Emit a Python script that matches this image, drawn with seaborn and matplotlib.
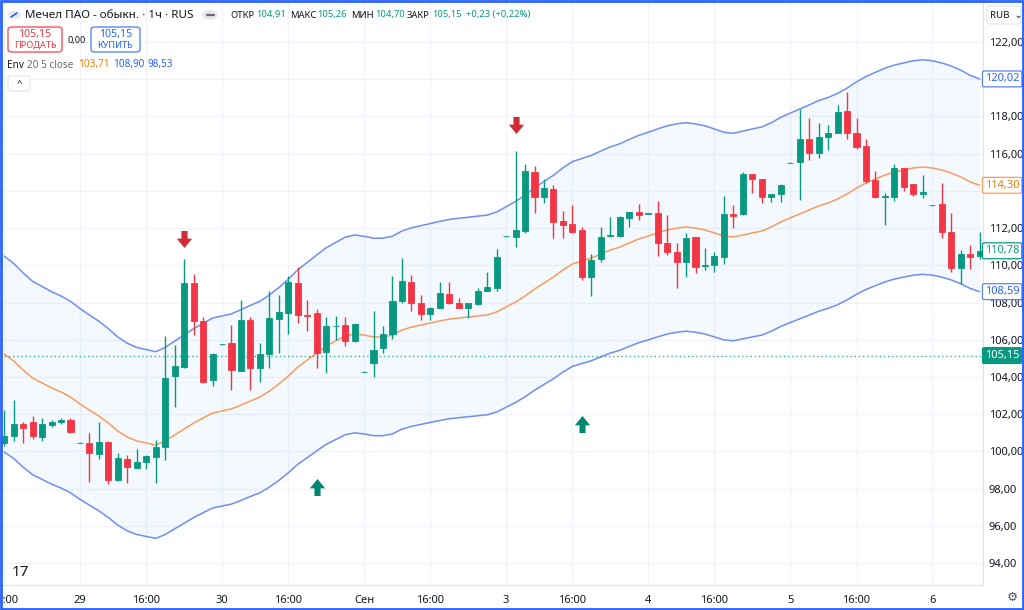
import numpy as np
import pandas as pd
import matplotlib
matplotlib.use("Agg")
import matplotlib.pyplot as plt
from matplotlib.path import Path
from matplotlib.patches import Rectangle, FancyBboxPatch
from matplotlib.lines import Line2D
import seaborn as sns

# ---------------- data ----------------
# bar index (0 = 29 Aug 09:00, 15 hourly bars per session)
bar_idx = list(range(-8, 96))
opens = [100.44, 100.83, 101.46, 101.56, 100.79, 101.41, 101.58, 101.69,
         100.45, 100.47, 99.86, 100.52, 98.46, 99.59, 99.13, 99.41, 99.68, 100.22, 104.07, 104.55, 109.03, 107.01, 103.83,
         105.75, 105.81, 104.32, 107.06, 104.50, 105.22, 107.10, 107.42, 109.06, 107.35, 107.46, 105.33, 106.72, 106.77, 105.95,
         104.27, 104.76, 105.54, 106.29, 108.08, 109.08, 107.96, 107.37, 107.72, 108.47, 108.00, 107.72, 107.90, 108.63, 108.80,
         111.55, 111.54, 111.86, 115.03, 113.65, 114.12, 112.39, 112.22, 111.90, 109.39, 110.34, 111.60, 111.57, 112.53, 112.85,
         112.77, 112.83, 111.21, 110.73, 110.16, 111.50, 109.95, 110.02, 110.46, 112.76, 112.76, 114.91, 114.62, 113.66, 113.83,
         115.50, 115.55, 116.81, 116.02, 116.91, 117.13, 118.29, 117.09, 116.43, 114.58, 113.68, 113.66, 115.21, 114.35, 113.83,
         113.22, 113.28, 111.81, 109.84, 110.59, 110.50]
highs = [102.22, 102.76, 101.57, 101.90, 101.78, 101.69, 101.81, 101.81,
         100.48, 100.97, 101.56, 100.55, 99.93, 99.81, 100.15, 99.80, 100.61, 106.20, 105.72, 110.32, 109.53, 107.24, 105.30,
         105.78, 106.78, 108.13, 107.20, 105.84, 108.62, 108.40, 109.43, 109.89, 108.13, 107.64, 107.20, 107.30, 107.20, 106.92,
         104.30, 107.56, 106.74, 109.43, 110.37, 109.48, 108.40, 107.77, 109.12, 109.09, 108.26, 107.99, 108.76, 109.62, 110.88,
         111.58, 116.16, 115.44, 115.35, 114.62, 114.30, 112.92, 113.24, 112.07, 110.61, 112.07, 112.58, 112.66, 112.85, 113.29,
         112.80, 113.45, 112.70, 111.18, 111.72, 111.54, 110.91, 110.70, 113.72, 113.24, 114.99, 114.91, 114.65, 113.85, 114.35,
         115.53, 118.38, 117.90, 117.66, 117.54, 118.61, 119.30, 117.93, 116.79, 115.07, 113.87, 115.43, 115.24, 114.35, 114.85,
         113.25, 114.44, 112.80, 110.82, 111.09, 111.79]
lows = [100.30, 100.57, 100.47, 100.68, 100.57, 101.29, 101.46, 101.00,
        100.44, 98.37, 99.57, 98.23, 98.40, 98.28, 99.09, 99.06, 98.28, 99.54, 102.37, 104.50, 106.24, 103.66, 103.53,
        105.74, 103.30, 104.30, 103.30, 103.74, 104.50, 105.30, 106.29, 106.92, 106.48, 104.47, 104.20, 106.00, 105.66, 105.90,
        104.26, 103.98, 105.30, 106.02, 108.00, 107.56, 107.06, 107.06, 107.70, 107.92, 107.70, 107.15, 107.87, 108.60, 108.63,
        111.54, 110.97, 111.75, 112.83, 113.36, 111.48, 111.45, 111.75, 109.21, 108.37, 110.20, 111.54, 111.54, 112.04, 112.45,
        112.76, 110.51, 110.54, 108.76, 109.36, 109.57, 109.75, 109.63, 110.05, 111.99, 112.70, 113.90, 113.33, 113.42, 113.42,
        115.49, 113.51, 115.66, 115.75, 116.20, 117.10, 116.79, 116.25, 114.41, 113.60, 112.17, 113.46, 113.99, 113.74, 113.63,
        113.21, 111.45, 109.66, 108.99, 109.80, 110.34]
closes = [100.84, 101.46, 101.24, 100.83, 101.49, 101.59, 101.69, 101.03,
          100.47, 99.93, 100.52, 98.46, 99.63, 99.18, 99.43, 99.77, 100.22, 103.93, 104.59, 109.03, 107.01, 103.74, 105.22,
          105.77, 104.37, 107.06, 104.50, 105.22, 107.15, 107.48, 109.12, 107.33, 107.30, 105.27, 106.74, 106.76, 105.95, 106.83,
          104.29, 105.45, 106.29, 108.08, 109.17, 107.96, 107.38, 107.72, 108.49, 107.96, 107.72, 107.96, 108.63, 108.82, 110.43,
          111.57, 111.90, 115.08, 113.65, 114.17, 112.33, 112.16, 111.81, 109.39, 110.28, 111.54, 111.65, 112.58, 112.85, 112.70,
          112.79, 111.18, 110.73, 110.16, 111.45, 109.93, 110.04, 110.52, 112.76, 112.67, 114.90, 114.62, 113.66, 113.83, 114.30,
          115.52, 116.77, 116.02, 116.91, 117.13, 118.26, 117.13, 116.37, 114.53, 113.66, 113.73, 115.21, 114.22, 113.81, 113.92,
          113.24, 111.81, 109.84, 110.59, 110.46, 110.78]
# Envelope (20, 5%) middle line
env_mid = [105.23, 104.86, 104.37, 103.94, 103.68, 103.41, 103.19, 102.92,
           102.55, 102.22, 101.90, 101.52, 101.09, 100.77, 100.56, 100.45, 100.34, 100.56, 100.88, 101.20, 101.52, 101.79, 102.06,
           102.17, 102.28, 102.49, 102.71, 102.92, 103.24, 103.62, 104.05, 104.53, 104.91, 105.29, 105.66, 105.93, 106.20, 106.31,
           106.25, 106.15, 106.15, 106.25, 106.52, 106.68, 106.79, 106.90, 107.01, 107.11, 107.17, 107.22, 107.28, 107.33, 107.49,
           107.76, 108.03, 108.35, 108.72, 109.05, 109.37, 109.75, 110.07, 110.23, 110.39, 110.61, 110.82, 110.98, 111.20, 111.41,
           111.57, 111.74, 111.90, 112.00, 112.06, 112.00, 111.90, 111.74, 111.57, 111.52, 111.63, 111.74, 111.84, 112.06, 112.33,
           112.55, 112.76, 112.97, 113.19, 113.35, 113.56, 113.83, 114.15, 114.42, 114.64, 114.85, 115.01, 115.12, 115.23, 115.28,
           115.23, 115.12, 114.96, 114.75, 114.48, 114.30]
env_pct = 5.0

sell_idx = [11, 46]
sell_level = [111.41, 117.54]
buy_idx = [25, 53]
buy_level = [98.09, 101.47]

tick_idx = [-8, 0, 7, 15, 22, 30, 37, 45, 52, 60, 67, 75, 82, 90]
tick_lbl = ["16:00", "29", "16:00", "30", "16:00", "Сен", "16:00", "3", "16:00", "4", "16:00", "5", "16:00", "6"]
price_ticks = list(range(94, 123, 2))
hidden_ticks = [114, 120]   # covered by the price markers on the scale
last_price = 105.15

# ---------------- style ----------------
sns.set_theme(style="white")
plt.rcParams['font.family'] = ['Noto Sans', 'DejaVu Sans']

GREEN = "#089981"
RED = "#F23645"
BLUE_LINE = "#6f8ef5"
ORANGE = "#fb9b5c"
TXT = "#131722"
GRID = "#f0f3fa"

W, H = 1024, 610
fig = plt.figure(figsize=(W / 100, H / 100), dpi=100)
ax = fig.add_axes([0, (H - 585) / H, 983 / W, 585 / H])

df = pd.DataFrame({"i": bar_idx, "o": opens, "h": highs, "l": lows, "c": closes, "mid": env_mid})
df["upper"] = df["mid"] * (1 + env_pct / 100)
df["lower"] = df["mid"] * (1 - env_pct / 100)

# grid
for t in tick_idx:
    ax.axvline(t, color=GRID, lw=1, zorder=0)
for p in price_ticks:
    ax.axhline(p, color=GRID, lw=1, zorder=0)

# envelope
ax.fill_between(df["i"], df["lower"], df["upper"], color="#2196f3", alpha=0.05, lw=0, zorder=1)
sns.lineplot(data=df, x="i", y="upper", color=BLUE_LINE, lw=1.1, ax=ax, zorder=2)
sns.lineplot(data=df, x="i", y="lower", color=BLUE_LINE, lw=1.1, ax=ax, zorder=2)
sns.lineplot(data=df, x="i", y="mid", color=ORANGE, lw=1.1, ax=ax, zorder=2)

# last price dotted line
ax.axhline(last_price, color=GREEN, lw=1, ls=(0, (1, 2)), alpha=0.8, zorder=2)

# candles
up = df["c"] >= df["o"]
cols = np.where(up, GREEN, RED)
ax.vlines(df["i"], df["l"], df["h"], colors=cols, lw=1, zorder=3)
bottoms = np.minimum(df["o"], df["c"])
heights = np.abs(df["c"] - df["o"])
ax.bar(df["i"], heights, bottom=bottoms, width=0.64, color=cols, edgecolor=cols, linewidth=0.6, zorder=4)

# signal arrows
down_arrow = Path([(-0.36, 1), (0.36, 1), (0.36, 0.1), (0.9, 0.1), (0, -1), (-0.9, 0.1), (-0.36, 0.1), (-0.36, 1)],
                  [Path.MOVETO] + [Path.LINETO] * 6 + [Path.CLOSEPOLY])
up_arrow = Path([(x, -y) for x, y in down_arrow.vertices], down_arrow.codes)
ax.scatter(sell_idx, sell_level, marker=down_arrow, s=150, color="#cf2b38", linewidths=0, zorder=5)
ax.scatter(buy_idx, buy_level, marker=up_arrow, s=150, color="#00876f", linewidths=0, zorder=5)

# axes setup
ax.set_xlim(-8 - 4.2 / 9.47, -8 - 4.2 / 9.47 + 983 / 9.47)
ax.set_ylim(124.257 - 585 * 0.05374, 124.257)
ax.yaxis.tick_right()
ax.set_yticks(price_ticks)
ax.set_yticklabels(["" if p in hidden_ticks else f"{p:.2f}".replace(".", ",") for p in price_ticks],
                   fontsize=8, color=TXT)
ax.tick_params(axis="y", length=0, pad=4)
ax.set_xticks(tick_idx)
ax.set_xticklabels(tick_lbl, fontsize=8, color=TXT)
for lab in ax.get_xticklabels():
    if lab.get_text() == "Сен":
        lab.set_fontweight("bold")
ax.tick_params(axis="x", length=0, pad=7)
ax.set_xlabel("")
ax.set_ylabel("")
for s in ["top", "left"]:
    ax.spines[s].set_visible(False)
for s in ["right", "bottom"]:
    ax.spines[s].set_color("#e0e3eb")
    ax.spines[s].set_linewidth(0.8)

# price labels on the scale
ytr = ax.get_yaxis_transform()
def fmt(v):
    return f"{round(v + 1e-9, 2):.2f}".replace(".", ",")

def price_box(val, fg, bg, edge):
    ax.text(1.0195, val, fmt(val), transform=ytr, ha="center", va="center",
            fontsize=8, color=fg, zorder=10, clip_on=False,
            bbox=dict(boxstyle="round,pad=0.22,rounding_size=0.15", fc=bg, ec=edge, lw=0.9))

up_last = env_mid[-1] * (1 + env_pct / 100)
lo_last = env_mid[-1] * (1 - env_pct / 100)
price_box(up_last, "#2962ff", "white", "#5b85f5")
price_box(env_mid[-1], "#f57c00", "white", ORANGE)
price_box(closes[-1], GREEN, "white", GREEN)
price_box(lo_last, "#2962ff", "white", "#5b85f5")
price_box(last_price, "white", GREEN, GREEN)

# ---------------- header texts ----------------
def fx(x):
    return x / W
def fy(y):
    return 1 - y / H

fig.patches.append(plt.Circle((fx(14), fy(15)), 6 / W, transform=fig.transFigure, color="#e8eaf0"))
fig.lines.append(Line2D([fx(11), fx(17)], [fy(17), fy(13)], transform=fig.transFigure, color="#2962ff", lw=1.2))
fig.text(fx(25), fy(15), "Мечел ПАО - обыкн. · 1ч · RUS", fontsize=8.4, color=TXT, va="center", ha="left")
fig.patches.append(plt.Circle((fx(210), fy(15)), 7 / W, transform=fig.transFigure, color="#e5e7ec"))
fig.lines.append(Line2D([fx(206.5), fx(213.5)], [fy(15), fy(15)], transform=fig.transFigure, color="#6a6d78", lw=1.6))

segs = [(230, "ОТКР", TXT), (256, "104,91", GREEN), (290, "МАКС", TXT), (317, "105,26", GREEN),
        (351, "МИН", TXT), (375, "104,70", GREEN), (407, "ЗАКР", TXT),
        (432, "105,15", GREEN), (466, "+0,23 (+0,22%)", GREEN)]
for x, t, c in segs:
    fig.text(fx(x), fy(15), t, fontsize=6.8, color=c, va="center", ha="left")

# sell / buy boxes
fig.patches.append(FancyBboxPatch((fx(8), fy(52)), 54 / W, 25 / H, boxstyle="round,pad=0,rounding_size=0.004",
                                  transform=fig.transFigure, fc="white", ec="#f7525f", lw=1))
fig.text(fx(35), fy(34), "105,15", fontsize=7.6, color="#f23645", ha="center", va="center")
fig.text(fx(35), fy(45), "ПРОДАТЬ", fontsize=6.6, color="#f23645", ha="center", va="center")
fig.text(fx(77), fy(40), "0,00", fontsize=6.6, color=TXT, ha="center", va="center")
fig.patches.append(FancyBboxPatch((fx(91), fy(52)), 49 / W, 25 / H, boxstyle="round,pad=0,rounding_size=0.004",
                                  transform=fig.transFigure, fc="white", ec="#5b85f5", lw=1))
fig.text(fx(115.5), fy(34), "105,15", fontsize=7.6, color="#2962ff", ha="center", va="center")
fig.text(fx(115.5), fy(45), "КУПИТЬ", fontsize=6.6, color="#2962ff", ha="center", va="center")

# indicator legend
fig.text(fx(7), fy(65), "Env", fontsize=7.2, color=TXT, va="center", ha="left")
fig.text(fx(27), fy(65), "20 5 close", fontsize=7.2, color="#6a6d78", va="center", ha="left")
fig.text(fx(78), fy(65), "103,71", fontsize=7.2, color="#f57c00", va="center", ha="left")
fig.text(fx(113), fy(65), "108,90", fontsize=7.2, color="#2962ff", va="center", ha="left")
fig.text(fx(147), fy(65), "98,53", fontsize=7.2, color="#2962ff", va="center", ha="left")
fig.patches.append(FancyBboxPatch((fx(8), fy(91)), 22 / W, 15 / H, boxstyle="round,pad=0,rounding_size=0.003",
                                  transform=fig.transFigure, fc="white", ec="#e0e3eb", lw=0.8))
fig.text(fx(19), fy(84), "^", fontsize=7, color=TXT, va="center", ha="center")

# currency selector
fig.patches.append(FancyBboxPatch((fx(987), fy(24)), 34 / W, 18 / H, boxstyle="round,pad=0,rounding_size=0.003",
                                  transform=fig.transFigure, fc="white", ec="#e0e3eb", lw=0.8))
fig.text(fx(990), fy(15), "RUB  ⌄", fontsize=7, color=TXT, va="center", ha="left")

# logo and settings icon
fig.text(fx(12), fy(572), "17", fontsize=11, color=TXT, fontweight="bold", va="center", ha="left")
fig.text(fx(1012), fy(597), "⚙", fontsize=9, color="#50535e", va="center", ha="center")

# selection frame
fig.patches.append(Rectangle((0.001, 0.0015), 0.998, 0.997, transform=fig.transFigure, fill=False,
                             ec="#2962ff", lw=2))

fig.savefig("out.png", dpi=100)
